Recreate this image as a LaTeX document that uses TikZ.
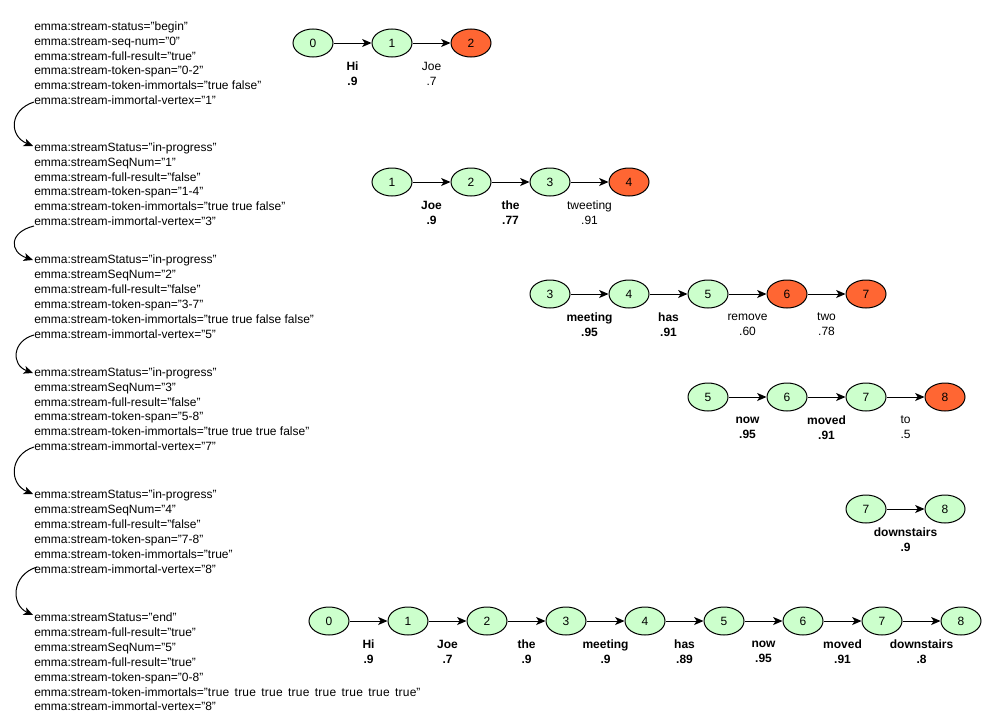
\documentclass[tikz,border=0pt]{standalone}
\usepackage{fontspec}
\setmainfont{Liberation Sans}
\usetikzlibrary{shapes.geometric,arrows.meta}
\definecolor{ngreen}{HTML}{CCFFCC}
\definecolor{nred}{HTML}{FF6633}
\begin{document}
\begin{tikzpicture}[x=0.75pt,y=-0.75pt,
  every node/.style={font=\fontsize{9}{11.25}\selectfont},
  vtx/.style={ellipse, draw=black, line width=0.75pt, minimum width=30pt, minimum height=21pt, inner sep=0pt, fill=ngreen},
  vred/.style={vtx, fill=nred},
  arr/.style={-{Stealth[length=7pt,width=6pt,inset=1.8pt]}, line width=0.75pt},
  lbl/.style={align=center, inner sep=0pt},
  lblb/.style={lbl, font=\fontsize{9}{11.25}\selectfont\bfseries},
  blk/.style={align=left, anchor=north west, inner sep=0pt, font=\fontsize{9}{11.12}\selectfont},
]
\useasboundingbox (0,0) rectangle (996,728);

% ---- left text blocks ----
\node[blk] (t1) at (34,21.5) {emma:stream-status="begin"\\
emma:stream-seq-num="0"\\
emma:stream-full-result="true"\\
emma:stream-token-span="0-2"\\
emma:stream-token-immortals="true false"\\
emma:stream-immortal-vertex="1"};

\node[blk] (t2) at (34,142.5) {emma:streamStatus="in-progress"\\
emma:streamSeqNum="1"\\
emma:stream-full-result="false"\\
emma:stream-token-span="1-4"\\
emma:stream-token-immortals="true true false"\\
emma:stream-immortal-vertex="3"};

\node[blk] (t3) at (34,255) {emma:streamStatus="in-progress"\\
emma:streamSeqNum="2"\\
emma:stream-full-result="false"\\
emma:stream-token-span="3-7"\\
emma:stream-token-immortals="true true false false"\\
emma:stream-immortal-vertex="5"};

\node[blk] (t4) at (34,367.5) {emma:streamStatus="in-progress"\\
emma:streamSeqNum="3"\\
emma:stream-full-result="false"\\
emma:stream-token-span="5-8"\\
emma:stream-token-immortals="true true true false"\\
emma:stream-immortal-vertex="7"};

\node[blk] (t5) at (34,490) {emma:streamStatus="in-progress"\\
emma:streamSeqNum="4"\\
emma:stream-full-result="false"\\
emma:stream-token-span="7-8"\\
emma:stream-token-immortals="true"\\
emma:stream-immortal-vertex="8"};

\node[blk] (t6) at (34,613) {emma:streamStatus="end"\\
emma:stream-full-result="true"\\
emma:streamSeqNum="5"\\
emma:stream-full-result="true"\\
emma:stream-token-span="0-8"\\
emma:stream-token-immortals="{\addfontfeatures{LetterSpace=2}\spaceskip=4pt true true true true true true true true}"\\
emma:stream-immortal-vertex="8"};

% ---- curved arrows between blocks ----
\coordinate (s1) at (34,102);  \coordinate (e1) at (33,146);
\coordinate (s2) at (34,226);  \coordinate (e2) at (33,260);
\coordinate (s3) at (34,335);  \coordinate (e3) at (33,373);
\coordinate (s4) at (34,447);  \coordinate (e4) at (33,494);
\coordinate (s5) at (37,567);  \coordinate (e5) at (33,615);
\draw[arr] (s1) .. controls +(-25,8) and +(-24,-10) .. (e1);
\draw[arr] (s2) .. controls +(-25,6) and +(-24,-8) .. (e2);
\draw[arr] (s3) .. controls +(-22,6) and +(-22,-8) .. (e3);
\draw[arr] (s4) .. controls +(-25,8) and +(-24,-10) .. (e4);
\draw[arr] (s5) .. controls +(-26,8) and +(-22,-10) .. (e5);

% ---- row 1 ----
\node[vtx] (a0) at (313,43) {0};
\node[vtx] (a1) at (392,43) {1};
\node[vred] (a2) at (471,43) {2};
\draw[arr] (a0) -- (a1);
\draw[arr] (a1) -- (a2);
\node[lblb] (la1) at (352.5,73.5) {Hi\\.9};
\node[lbl]  (la2) at (431.5,73.5) {Joe\\.7};

% ---- row 2 ----
\node[vtx] (b1) at (392,182) {1};
\node[vtx] (b2) at (471,182) {2};
\node[vtx] (b3) at (550,182) {3};
\node[vred] (b4) at (629,182) {4};
\draw[arr] (b1) -- (b2);
\draw[arr] (b2) -- (b3);
\draw[arr] (b3) -- (b4);
\node[lblb] (lb1) at (431.5,212.5) {Joe\\.9};
\node[lblb] (lb2) at (510.5,212.5) {the\\.77};
\node[lbl]  (lb3) at (589.5,212.5) {tweeting\\.91};

% ---- row 3 ----
\node[vtx] (c3) at (550,294) {3};
\node[vtx] (c4) at (629,294) {4};
\node[vtx] (c5) at (708,294) {5};
\node[vred] (c6) at (787,294) {6};
\node[vred] (c7) at (866,294) {7};
\draw[arr] (c3) -- (c4);
\draw[arr] (c4) -- (c5);
\draw[arr] (c5) -- (c6);
\draw[arr] (c6) -- (c7);
\node[lblb] (lc1) at (589.5,324.5) {meeting\\.95};
\node[lblb] (lc2) at (668.5,324.5) {has\\.91};
\node[lbl]  (lc3) at (747.5,324.5) {remove\\.60};
\node[lbl]  (lc4) at (826.5,324.5) {two\\.78};

% ---- row 4 ----
\node[vtx] (d5) at (708,397) {5};
\node[vtx] (d6) at (787,397) {6};
\node[vtx] (d7) at (866,397) {7};
\node[vred] (d8) at (945,397) {8};
\draw[arr] (d5) -- (d6);
\draw[arr] (d6) -- (d7);
\draw[arr] (d7) -- (d8);
\node[lblb] (ld1) at (747.5,427.5) {now\\.95};
\node[lblb] (ld2) at (826.5,427.5) {moved\\.91};
\node[lbl]  (ld3) at (905.5,427.5) {to\\.5};

% ---- row 5 ----
\node[vtx] (e7n) at (866,509) {7};
\node[vtx] (e8n) at (945,509) {8};
\draw[arr] (e7n) -- (e8n);
\node[lblb] (le1) at (905.5,539.5) {downstairs\\.9};

% ---- row 6 ----
\node[vtx] (f0) at (329,621) {0};
\node[vtx] (f1) at (408,621) {1};
\node[vtx] (f2) at (487,621) {2};
\node[vtx] (f3) at (566,621) {3};
\node[vtx] (f4) at (645,621) {4};
\node[vtx] (f5) at (724,621) {5};
\node[vtx] (f6) at (803,621) {6};
\node[vtx] (f7) at (882,621) {7};
\node[vtx] (f8) at (961,621) {8};
\draw[arr] (f0) -- (f1);
\draw[arr] (f1) -- (f2);
\draw[arr] (f2) -- (f3);
\draw[arr] (f3) -- (f4);
\draw[arr] (f4) -- (f5);
\draw[arr] (f5) -- (f6);
\draw[arr] (f6) -- (f7);
\draw[arr] (f7) -- (f8);
\node[lblb] (lf1) at (368.5,651.5) {Hi\\.9};
\node[lblb] (lf2) at (447.5,651.5) {Joe\\.7};
\node[lblb] (lf3) at (526.5,651.5) {the\\.9};
\node[lblb] (lf4) at (605.5,651.5) {meeting\\.9};
\node[lblb] (lf5) at (684.5,651.5) {has\\.89};
\node[lblb] (lf6) at (763.5,651.5) {now\\.95};
\node[lblb] (lf7) at (842.5,651.5) {moved\\.91};
\node[lblb] (lf8) at (921.5,651.5) {downstairs\\.8};
\end{tikzpicture}
\end{document}
